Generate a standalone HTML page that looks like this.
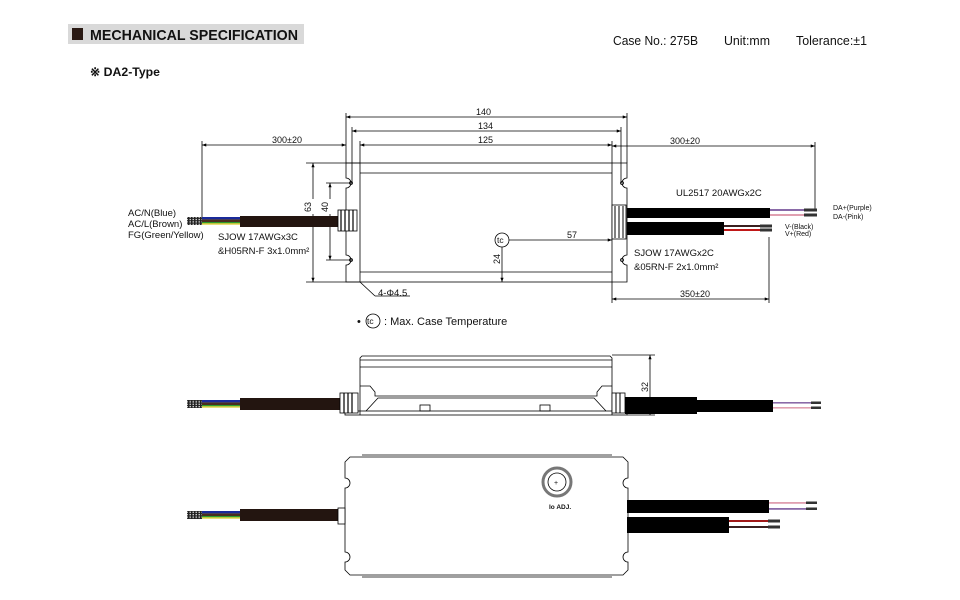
<!DOCTYPE html>
<html><head><meta charset="utf-8"><style>
html,body{margin:0;padding:0;background:#fff}
svg{display:block}
text{font-family:"Liberation Sans",Arial,sans-serif;fill:#111}
</style></head><body>
<svg width="960" height="600" viewBox="0 0 960 600" xmlns="http://www.w3.org/2000/svg">
<defs>
<marker id="a" viewBox="0 0 8 6" refX="8" refY="3" markerWidth="6" markerHeight="4" orient="auto-start-reverse"><path d="M0,0L8,3L0,6z" fill="#000"/></marker>
<pattern id="g" width="3" height="2.4" patternUnits="userSpaceOnUse"><rect width="3" height="2.4" fill="#222"/><rect x="0.5" y="0.5" width="1.5" height="1.2" fill="#ddd"/></pattern>
</defs>
<!-- header -->
<rect x="68" y="24" width="236" height="20" fill="#d9d9d9"/>
<rect x="72" y="28" width="11" height="12" fill="#2a1a14"/>
<text x="90" y="40" font-size="15" font-weight="bold" textLength="208" lengthAdjust="spacingAndGlyphs">MECHANICAL SPECIFICATION</text>
<text x="90" y="76" font-size="12" font-weight="bold" textLength="70" lengthAdjust="spacingAndGlyphs">※ DA2-Type</text>
<text x="613" y="45" font-size="12.5" textLength="85" lengthAdjust="spacingAndGlyphs">Case No.: 275B</text>
<text x="724" y="45" font-size="12.5" textLength="46" lengthAdjust="spacingAndGlyphs">Unit:mm</text>
<text x="796" y="45" font-size="12.5" textLength="71" lengthAdjust="spacingAndGlyphs">Tolerance:±1</text>

<g stroke="#000" fill="none" stroke-width="0.8">
<line x1="346" y1="117" x2="627" y2="117" marker-start="url(#a)" marker-end="url(#a)"/>
<line x1="352" y1="131" x2="621" y2="131" marker-start="url(#a)" marker-end="url(#a)"/>
<line x1="360" y1="145" x2="612" y2="145" marker-start="url(#a)" marker-end="url(#a)"/>
<line x1="202" y1="145" x2="346" y2="145" marker-start="url(#a)" marker-end="url(#a)"/>
<line x1="612" y1="146" x2="815" y2="146" marker-start="url(#a)" marker-end="url(#a)"/>
<line x1="346" y1="113" x2="346" y2="163"/><line x1="627" y1="113" x2="627" y2="163"/>
<line x1="352" y1="127" x2="352" y2="183"/><line x1="621" y1="127" x2="621" y2="183"/>
<line x1="360" y1="141" x2="360" y2="163"/><line x1="612" y1="141" x2="612" y2="163"/>
<line x1="202" y1="141" x2="202" y2="217"/><line x1="815" y1="142" x2="815" y2="210"/>
<line x1="313" y1="163" x2="313" y2="282" marker-start="url(#a)" marker-end="url(#a)"/>
<line x1="306" y1="163" x2="360" y2="163"/><line x1="306" y1="282" x2="360" y2="282"/>
<line x1="330" y1="183" x2="330" y2="260" marker-start="url(#a)" marker-end="url(#a)"/>
<line x1="326" y1="183" x2="352" y2="183"/><line x1="326" y1="260" x2="352" y2="260"/>
<line x1="502" y1="247" x2="502" y2="282" marker-end="url(#a)"/>
<line x1="509" y1="240" x2="612" y2="240" marker-end="url(#a)"/>
<line x1="612" y1="299" x2="769" y2="299" marker-start="url(#a)" marker-end="url(#a)"/>
<line x1="612" y1="282" x2="612" y2="303"/><line x1="769" y1="237" x2="769" y2="303"/>
<rect x="360" y="163" width="252" height="119"/>
<line x1="360" y1="173" x2="612" y2="173"/><line x1="360" y1="272" x2="612" y2="272"/>
<path d="M360,163H346V178A5,5 0 0 1 346,188V255A5,5 0 0 1 346,265V282H360"/>
<path d="M612,163H627V178A5,5 0 0 0 627,188V255A5,5 0 0 0 627,265V282H612"/>
<circle cx="351" cy="183" r="1.5"/><circle cx="351" cy="260" r="1.5"/>
<circle cx="622" cy="183" r="1.5"/><circle cx="622" cy="260" r="1.5"/>
<line x1="360" y1="282" x2="375" y2="296"/><line x1="375" y1="296" x2="410" y2="296"/>
<circle cx="502" cy="240" r="7"/>
</g>
<rect x="306" y="199" width="12" height="15" fill="#fff"/>
<rect x="323" y="199" width="12" height="15" fill="#fff"/>
<text x="476" y="115" font-size="9">140</text>
<text x="478" y="129" font-size="9">134</text>
<text x="478" y="143" font-size="9">125</text>
<text x="272" y="143" font-size="9">300±20</text>
<text x="670" y="144" font-size="9">300±20</text>
<text x="680" y="297" font-size="9">350±20</text>
<text x="567" y="238" font-size="9">57</text>
<text font-size="9" transform="translate(311,212) rotate(-90)">63</text>
<text font-size="9" transform="translate(328,212) rotate(-90)">40</text>
<text font-size="9" transform="translate(500,264) rotate(-90)">24</text>
<text x="497" y="243" font-size="8.5">tc</text>
<text x="378" y="296" font-size="9.5">4-Φ4.5</text>
<text x="676" y="196" font-size="9.5">UL2517 20AWGx2C</text>
<text x="634" y="256" font-size="9.5">SJOW 17AWGx2C</text>
<text x="634" y="270" font-size="9.5">&amp;05RN-F  2x1.0mm²</text>
<text x="218" y="240" font-size="9.5">SJOW 17AWGx3C</text>
<text x="218" y="254" font-size="9.5">&amp;H05RN-F 3x1.0mm²</text>
<text x="128" y="216" font-size="9.5">AC/N(Blue)</text>
<text x="128" y="227" font-size="9.5">AC/L(Brown)</text>
<text x="128" y="238" font-size="9.5">FG(Green/Yellow)</text>
<text x="833" y="210" font-size="7">DA+(Purple)</text>
<text x="833" y="219" font-size="7">DA-(Pink)</text>
<text x="785" y="229" font-size="7">V-(Black)</text>
<text x="785" y="236" font-size="7">V+(Red)</text>
<!-- left cable top -->
<rect x="187" y="217" width="15" height="8" fill="url(#g)"/>
<rect x="202" y="217" width="38" height="2.4" fill="#1a2a9a"/><rect x="202" y="219.4" width="38" height="2.6" fill="#4a2e1e"/><rect x="202" y="222" width="38" height="1.3" fill="#2e9a2e"/><rect x="202" y="223.3" width="38" height="1.3" fill="#d8c820"/>
<rect x="240" y="216" width="98" height="11" fill="#231510"/>
<rect x="338" y="210" width="19" height="21" fill="#fff" stroke="#000" stroke-width="0.8"/>
<path d="M341,210v21M345,210v21M349,210v21M353,210v21" stroke="#000" stroke-width="1.2"/>
<!-- right cables top -->
<rect x="612" y="205" width="14" height="34" fill="#fff" stroke="#000" stroke-width="0.8"/>
<path d="M615,206v32M619,206v32M623,206v32" stroke="#000" stroke-width="1"/>
<rect x="627" y="208" width="143" height="10" fill="#000"/>
<rect x="770" y="209" width="45" height="2" fill="#8a6aa8"/><rect x="770" y="214" width="45" height="2" fill="#e0a0b0"/>
<rect x="804" y="208.5" width="13" height="3" fill="#333"/><rect x="804" y="213.5" width="13" height="3" fill="#333"/>
<rect x="627" y="222" width="97" height="13" fill="#000"/>
<rect x="724" y="225" width="46" height="2" fill="#3a2020"/><rect x="724" y="229" width="46" height="2" fill="#c01818"/>
<rect x="760" y="224.5" width="12" height="3" fill="#333"/><rect x="760" y="228.5" width="12" height="3" fill="#333"/>
<!-- tc legend -->
<text x="357" y="325" font-size="11">•</text>
<circle cx="373" cy="321" r="7" fill="none" stroke="#000" stroke-width="0.8"/>
<text x="367" y="324" font-size="8.5">tc</text>
<text x="384" y="325" font-size="11">: Max. Case Temperature</text>

<!-- side view -->
<g stroke="#000" fill="none" stroke-width="0.8">
<path d="M360,415V358L362,356H610L612,358V415"/>
<line x1="360" y1="360" x2="612" y2="360"/><line x1="360" y1="367" x2="612" y2="367"/>
<path d="M360,386H370L375,392V396H597V392L602,386H612"/>
<path d="M366,411L378,398H594L606,411"/>
<rect x="345" y="411" width="282" height="4"/>
<rect x="420" y="405" width="10" height="6"/><rect x="540" y="405" width="10" height="6"/>
<line x1="612" y1="355" x2="655" y2="355"/><line x1="627" y1="415" x2="655" y2="415"/>
<line x1="650" y1="355" x2="650" y2="415" marker-start="url(#a)" marker-end="url(#a)"/>
</g>
<text font-size="9" transform="translate(648,392) rotate(-90)">32</text>
<rect x="187" y="400" width="15" height="8" fill="url(#g)"/>
<rect x="202" y="400" width="38" height="2.4" fill="#1a2a9a"/><rect x="202" y="402.4" width="38" height="2.6" fill="#4a2e1e"/><rect x="202" y="405" width="38" height="1.3" fill="#2e9a2e"/><rect x="202" y="406.3" width="38" height="1.3" fill="#d8c820"/>
<rect x="240" y="398" width="100" height="12" fill="#231510"/>
<rect x="340" y="393" width="18" height="20" fill="#fff" stroke="#000" stroke-width="0.8"/>
<path d="M344,393v20M348,393v20M352,393v20" stroke="#000" stroke-width="1.2"/>
<rect x="612" y="393" width="13" height="20" fill="#fff" stroke="#000" stroke-width="0.8"/>
<path d="M616,393v20M620,393v20" stroke="#000" stroke-width="1"/>
<rect x="625" y="397" width="72" height="17" fill="#000"/>
<rect x="697" y="400" width="76" height="12" fill="#000"/>
<rect x="773" y="402" width="47" height="1.6" fill="#8a6aa8"/><rect x="773" y="407" width="47" height="1.6" fill="#e0a0b0"/>
<rect x="811" y="401.5" width="10" height="2.5" fill="#333"/><rect x="811" y="406.5" width="10" height="2.5" fill="#333"/>

<!-- bottom view -->
<g stroke="#000" fill="none" stroke-width="0.8">
<path d="M350,457H623L628,462V478A5,5 0 0 0 628,488V552A5,5 0 0 0 628,562V570L623,575H350L345,570V562A5,5 0 0 0 345,552V488A5,5 0 0 0 345,478V462Z"/>
<line x1="362" y1="455" x2="612" y2="455"/><line x1="362" y1="577" x2="612" y2="577"/>
<circle cx="557" cy="482" r="14" stroke="#777" stroke-width="3"/>
<circle cx="557" cy="482" r="9"/>
</g>
<text x="549" y="509" font-size="6.5" font-weight="bold">Io  ADJ.</text>
<text x="554" y="485" font-size="7">+</text>
<rect x="187" y="511" width="15" height="8" fill="url(#g)"/>
<rect x="202" y="511" width="38" height="2.4" fill="#1a2a9a"/><rect x="202" y="513.4" width="38" height="2.6" fill="#4a2e1e"/><rect x="202" y="516" width="38" height="1.3" fill="#2e9a2e"/><rect x="202" y="517.3" width="38" height="1.3" fill="#d8c820"/>
<rect x="240" y="509" width="98" height="12" fill="#231510"/>
<rect x="338" y="508" width="7" height="16" fill="#fff" stroke="#000" stroke-width="0.8"/>
<rect x="627" y="500" width="142" height="13" fill="#000"/>
<rect x="769" y="502" width="47" height="1.8" fill="#e0a0b0"/><rect x="769" y="508" width="47" height="1.8" fill="#8a6aa8"/>
<rect x="806" y="501.5" width="11" height="2.5" fill="#333"/><rect x="806" y="507.5" width="11" height="2.5" fill="#333"/>
<rect x="627" y="517" width="102" height="16" fill="#000"/>
<rect x="729" y="520" width="40" height="2" fill="#a01818"/><rect x="729" y="526" width="40" height="2" fill="#3a2020"/>
<rect x="768" y="519.5" width="12" height="3" fill="#333"/><rect x="768" y="525.5" width="12" height="3" fill="#333"/>
</svg>
</body></html>
